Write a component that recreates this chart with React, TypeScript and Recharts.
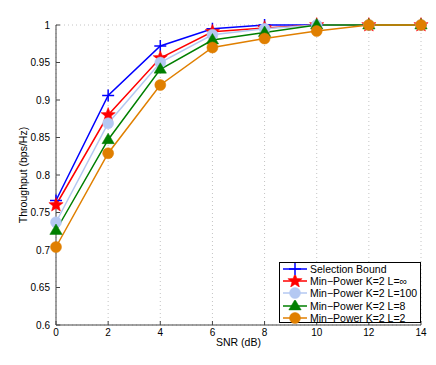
import React from 'react';
import { LineChart, Line, XAxis, YAxis, CartesianGrid, Legend, Label } from 'recharts';

const snr = [0, 2, 4, 6, 8, 10, 12, 14];
const selectionBound = [0.766, 0.906, 0.972, 0.995, 1.0, 1.0, 1.0, 1.0];
const minPowerLinf = [0.76, 0.88, 0.956, 0.991, 0.996, 1.0, 1.0, 1.0];
const minPowerL100 = [0.737, 0.869, 0.95, 0.987, 0.995, 1.0, 1.0, 1.0];
const minPowerL8 = [0.726, 0.847, 0.941, 0.98, 0.99, 1.0, 1.0, 1.0];
const minPowerL2 = [0.704, 0.829, 0.92, 0.97, 0.982, 0.992, 1.0, 1.0];

const xTicks = [0, 2, 4, 6, 8, 10, 12, 14];
const yTicks = [0.6, 0.65, 0.7, 0.75, 0.8, 0.85, 0.9, 0.95, 1];

const seriesNames = [
  'Selection Bound',
  'Min\u2212Power K=2 L=\u221e',
  'Min\u2212Power K=2 L=100',
  'Min\u2212Power K=2 L=8',
  'Min\u2212Power K=2 L=2',
];

const data = snr.map((s, i) => ({
  snr: s,
  sb: selectionBound[i],
  linf: minPowerLinf[i],
  l100: minPowerL100[i],
  l8: minPowerL8[i],
  l2: minPowerL2[i],
}));

const BLUE = '#0000ff';
const RED = '#ff0000';
const LBLUE = '#b4c8f2';
const GREEN = '#007f00';
const ORANGE = '#e07f00';

const FONT = '"Liberation Sans", Arial, Helvetica, sans-serif';

type MK = 'plus' | 'star' | 'circle' | 'tri';

const Marker = ({ kind, cx, cy, color }: { kind: MK; cx: number; cy: number; color: string }) => {
  if (kind === 'plus') {
    const r = 6;
    return (
      <g>
        <line x1={cx - r} y1={cy} x2={cx + r} y2={cy} stroke={color} strokeWidth={1.5} />
        <line x1={cx} y1={cy - r} x2={cx} y2={cy + r} stroke={color} strokeWidth={1.5} />
      </g>
    );
  }
  if (kind === 'star') {
    const ro = 7.5;
    const ri = 3.2;
    const pts: string[] = [];
    for (let k = 0; k < 10; k++) {
      const r = k % 2 === 0 ? ro : ri;
      const a = -Math.PI / 2 + (k * Math.PI) / 5;
      pts.push(`${cx + r * Math.cos(a)},${cy + r * Math.sin(a)}`);
    }
    return <polygon points={pts.join(' ')} fill={color} stroke={color} strokeWidth={0.5} />;
  }
  if (kind === 'tri') {
    const r = 6.5;
    return (
      <polygon
        points={`${cx},${cy - r} ${cx - r * 0.95},${cy + r * 0.6} ${cx + r * 0.95},${cy + r * 0.6}`}
        fill={color}
        stroke={color}
        strokeWidth={0.5}
      />
    );
  }
  return <circle cx={cx} cy={cy} r={5.5} fill={color} stroke={color} strokeWidth={0.5} />;
};

const makeDot = (kind: MK, color: string) => (props: any) => {
  const { cx, cy, index } = props;
  if (cx == null || cy == null) return <g key={index} />;
  return <Marker key={index} kind={kind} cx={cx} cy={cy} color={color} />;
};

const legendItems: { kind: MK; color: string }[] = [
  { kind: 'plus', color: BLUE },
  { kind: 'star', color: RED },
  { kind: 'circle', color: LBLUE },
  { kind: 'tri', color: GREEN },
  { kind: 'circle', color: ORANGE },
];

const LegendBox = () => (
  <div
    style={{
      width: 142,
      height: 61,
      border: '1px solid #000',
      background: '#fff',
      boxSizing: 'border-box',
      fontFamily: FONT,
      fontSize: 10.5,
      color: '#000',
      paddingTop: 0,
    }}
  >
    {legendItems.map((it, i) => (
      <div key={i} style={{ display: 'flex', alignItems: 'center', height: 12.2, lineHeight: '12px' }}>
        <svg width={30} height={12} style={{ flex: 'none' }}>
          <line x1={3} y1={6} x2={27} y2={6} stroke={it.color} strokeWidth={1.5} />
          <Marker kind={it.kind} cx={15} cy={6} color={it.color} />
        </svg>
        <span style={{ whiteSpace: 'nowrap' }}>{seriesNames[i]}</span>
      </div>
    ))}
  </div>
);

const NoTick = () => <g />;

export default function App() {
  return (
    <div style={{ position: 'absolute', left: 0, top: 0, width: 436, height: 365, background: '#fff' }}>
      <LineChart
        width={436}
        height={365}
        data={data}
        margin={{ top: 25, right: 15, left: 0, bottom: 0 }}
      >
        <CartesianGrid stroke="#c4c4c4" strokeDasharray="1 3" />
        <XAxis
          xAxisId="b"
          dataKey="snr"
          type="number"
          domain={[0, 14]}
          ticks={xTicks}
          height={40}
          stroke="#444"
          tickSize={-4}
          tickMargin={8}
          tick={{ fill: '#000', fontSize: 10, fontFamily: FONT }}
        >
          <Label value="SNR (dB)" position="insideBottom" offset={19} style={{ fill: '#000', fontSize: 10.5, fontFamily: FONT }} />
        </XAxis>
        <XAxis
          xAxisId="t"
          dataKey="snr"
          type="number"
          orientation="top"
          domain={[0, 14]}
          ticks={xTicks}
          height={0}
          stroke="#444"
          tickSize={-4}
          tick={NoTick}
        />
        <YAxis
          yAxisId="l"
          type="number"
          domain={[0.6, 1]}
          ticks={yTicks}
          width={56}
          stroke="#444"
          tickSize={-4}
          tickMargin={10}
          tick={{ fill: '#000', fontSize: 10, fontFamily: FONT }}
        >
          <Label
            value="Throughput (bps/Hz)"
            angle={-90}
            position="insideLeft"
            offset={23}
            style={{ textAnchor: 'middle', fill: '#000', fontSize: 10.5, fontFamily: FONT }}
          />
        </YAxis>
        <YAxis
          yAxisId="r"
          type="number"
          orientation="right"
          domain={[0.6, 1]}
          ticks={yTicks}
          width={0}
          stroke="#444"
          tickSize={-4}
          tick={NoTick}
        />
        <Line xAxisId="b" yAxisId="l" dataKey="sb" stroke={BLUE} strokeWidth={1.5} dot={makeDot('plus', BLUE)} activeDot={false} isAnimationActive={false} name={seriesNames[0]} />
        <Line xAxisId="b" yAxisId="l" dataKey="linf" stroke={RED} strokeWidth={1.5} dot={makeDot('star', RED)} activeDot={false} isAnimationActive={false} name={seriesNames[1]} />
        <Line xAxisId="b" yAxisId="l" dataKey="l100" stroke={LBLUE} strokeWidth={1.5} dot={makeDot('circle', LBLUE)} activeDot={false} isAnimationActive={false} name={seriesNames[2]} />
        <Line xAxisId="b" yAxisId="l" dataKey="l8" stroke={GREEN} strokeWidth={1.5} dot={makeDot('tri', GREEN)} activeDot={false} isAnimationActive={false} name={seriesNames[3]} />
        <Line xAxisId="b" yAxisId="l" dataKey="l2" stroke={ORANGE} strokeWidth={1.5} dot={makeDot('circle', ORANGE)} activeDot={false} isAnimationActive={false} name={seriesNames[4]} />
        <Legend
          layout="horizontal"
          verticalAlign="middle"
          align="center"
          content={LegendBox}
          wrapperStyle={{ position: 'absolute', left: 279, top: 262, width: 142, height: 61, margin: 0, padding: 0 }}
        />
      </LineChart>
    </div>
  );
}
